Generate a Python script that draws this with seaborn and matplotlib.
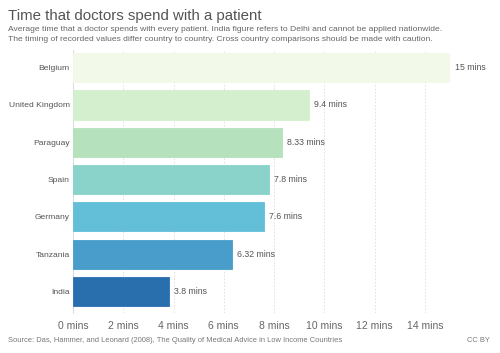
import pandas as pd
import seaborn as sns
import matplotlib.pyplot as plt

countries = ['Belgium', 'United Kingdom', 'Paraguay', 'Spain', 'Germany', 'Tanzania', 'India']
minutes = [15, 9.4, 8.33, 7.8, 7.6, 6.32, 3.8]
labels = ['15 mins', '9.4 mins', '8.33 mins', '7.8 mins', '7.6 mins', '6.32 mins', '3.8 mins']
colors = ['#f2f9e9', '#d4efcd', '#b5e1bc', '#89d3cb', '#63bed8', '#489dca', '#2a6fad']
xticks = [0, 2, 4, 6, 8, 10, 12, 14]

sns.set_style('white')
plt.rcParams['font.family'] = ['Liberation Sans', 'DejaVu Sans']

df = pd.DataFrame({'country': countries, 'minutes': minutes})

fig = plt.figure(figsize=(5, 3.53), dpi=100)
ax = fig.add_axes([0.146, 0.113, 0.754, 0.745])

sns.barplot(data=df, y='country', x='minutes', hue='country', palette=colors,
            width=0.78, legend=False, ax=ax, saturation=1, zorder=3)
for p, c in zip(ax.patches, colors):
    p.set_edgecolor(c)
    p.set_linewidth(0.6)

for i, (v, t) in enumerate(zip(minutes, labels)):
    ax.text(v + 0.2, i, t, va='center', ha='left', fontsize=6.3, color='#555555')

ax.set_xlim(0, 15)
ax.set_ylim(6.58, -0.47)
ax.set_xticks(xticks)
ax.set_xticklabels([f'{t} mins' for t in xticks], fontsize=7.5, color='#666666')
ax.tick_params(axis='x', length=0, pad=6)
ax.tick_params(axis='y', length=0, pad=2.5, labelsize=6.1, labelcolor='#555555')
ax.set_xlabel('')
ax.set_ylabel('')
ax.xaxis.grid(True, linestyle=(0, (2, 2)), color='#dddddd', linewidth=0.6, zorder=0)
for s in ['top', 'right', 'bottom']:
    ax.spines[s].set_visible(False)
ax.spines['left'].set_color('#dddddd')
ax.spines['left'].set_linewidth(0.8)

fig.text(0.016, 0.955, 'Time that doctors spend with a patient', fontsize=10.8, color='#555555', va='center')
fig.text(0.016, 0.917, 'Average time that a doctor spends with every patient. India figure refers to Delhi and cannot be applied nationwide.',
         fontsize=6.1, color='#666666', va='center')
fig.text(0.016, 0.889, 'The timing of recorded values differ country to country. Cross country comparisons should be made with caution.',
         fontsize=6.1, color='#666666', va='center')
fig.text(0.016, 0.035, 'Source: Das, Hammer, and Leonard (2008), The Quality of Medical Advice in Low Income Countries',
         fontsize=5.4, color='#777777', va='center')
fig.text(0.98, 0.035, 'CC BY', fontsize=5.4, color='#777777', va='center', ha='right')

fig.savefig('out.png', dpi=100)
